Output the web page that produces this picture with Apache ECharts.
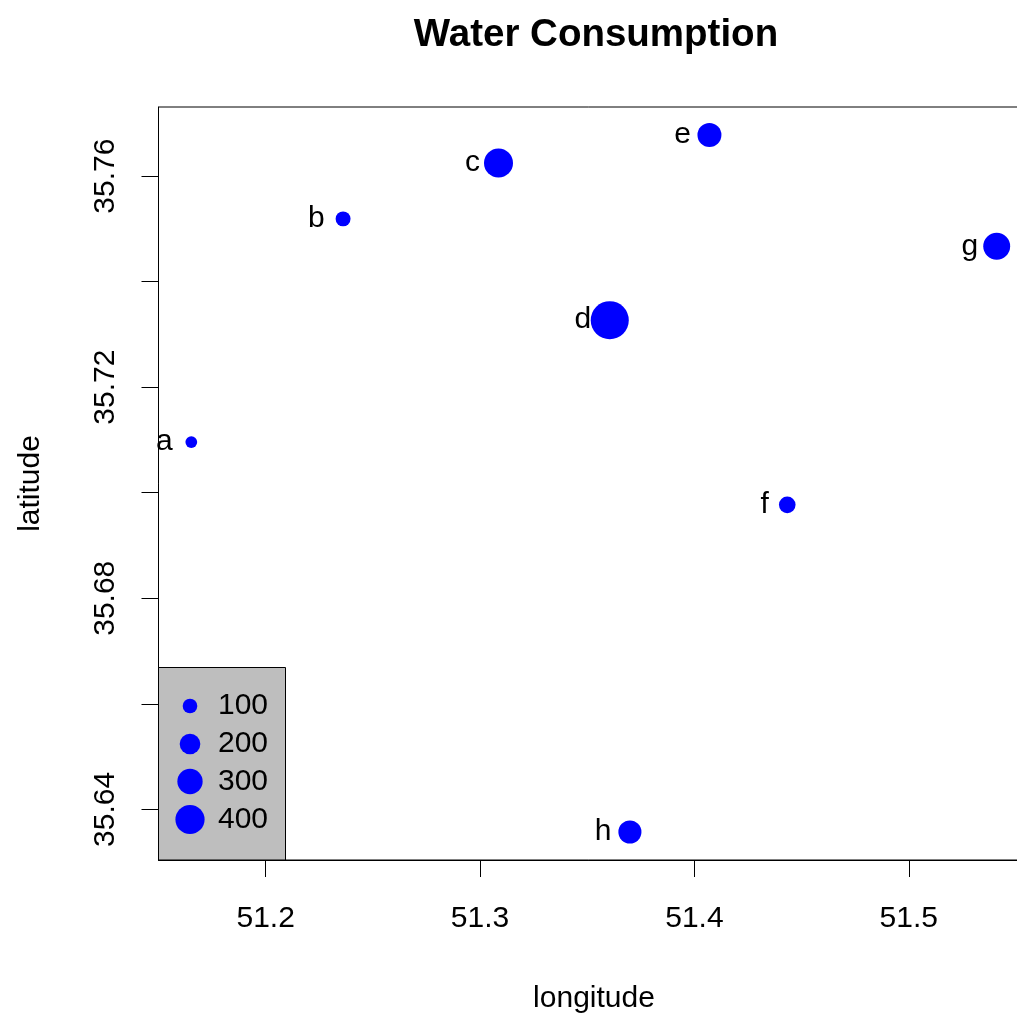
<!DOCTYPE html>
<html>
<head>
<meta charset="utf-8">
<script src="https://cdn.jsdelivr.net/npm/echarts@6/dist/echarts.min.js"></script>
<style>html,body{margin:0;padding:0;background:#fff;overflow:hidden;}#main{width:1017px;height:1015px;}</style>
</head>
<body>
<div id="main"></div>
<script>
// ---- data ----
var names = ['a', 'b', 'c', 'd', 'e', 'f', 'g', 'h'];
var longitude = [51.1653, 51.2361, 51.3086, 51.3605, 51.4070, 51.4433, 51.5410, 51.3699];
var latitude = [35.7096, 35.7519, 35.7625, 35.7327, 35.7678, 35.6977, 35.7467, 35.6357];
var consumption = [65, 105, 395, 680, 270, 130, 340, 250];
var legendValues = [100, 200, 300, 400];
var xTickValues = [51.2, 51.3, 51.4, 51.5];
var yTickValues = [35.64, 35.66, 35.68, 35.70, 35.72, 35.74, 35.76];
var yLabelValues = [35.64, 35.68, 35.72, 35.76];

var FONT = "'Liberation Sans', Arial, sans-serif";
function dotSize(v) { return 14.6 * Math.sqrt(v / 100); }

var points = names.map(function (n, i) { return [longitude[i], latitude[i], consumption[i], n]; });

var legendGraphics = [{
  type: 'rect', shape: { x: 158.5, y: 667.5, width: 127, height: 192.5 },
  style: { fill: '#BEBEBE', stroke: '#000', lineWidth: 1 }, z: 100
}];
var legendY = [706, 744, 781.5, 819.5];
legendValues.forEach(function (v, i) {
  legendGraphics.push({
    type: 'circle', shape: { cx: 190, cy: legendY[i], r: dotSize(v) / 2 },
    style: { fill: '#0000FF' }, z: 101
  });
  legendGraphics.push({
    type: 'text', x: 218, y: legendY[i],
    style: { text: String(v), fill: '#000', font: '30px ' + FONT, verticalAlign: 'middle', align: 'left' }, z: 101
  });
});

var chart = echarts.init(document.getElementById('main'));
chart.setOption({
  backgroundColor: '#fff',
  animation: false,
  title: {
    text: 'Water Consumption', left: 591, top: 11, textAlign: 'center',
    textStyle: { fontFamily: FONT, fontSize: 38.5, fontWeight: 'bold', color: '#000' }
  },
  grid: { left: 158.5, top: 107, width: 871, height: 753, outerBoundsMode: 'none', containLabel: false,
    show: true, borderColor: '#000', borderWidth: 1, backgroundColor: 'transparent' },
  xAxis: {
    type: 'value', min: 51.1500, max: 51.5563,
    name: 'longitude', nameLocation: 'middle', nameGap: 124,
    nameTextStyle: { fontFamily: FONT, fontSize: 30, color: '#000' },
    axisLine: { show: true, onZero: false, lineStyle: { color: '#000', width: 1 } },
    axisTick: { show: true, length: 17, lineStyle: { color: '#000', width: 1 }, customValues: xTickValues },
    axisLabel: { fontFamily: FONT, fontSize: 30, color: '#000', margin: 44, customValues: xTickValues,
      formatter: function (v) { return v.toFixed(1); } },
    splitLine: { show: false }
  },
  yAxis: {
    type: 'value', min: 35.6304, max: 35.7731,
    name: 'latitude', nameLocation: 'middle', nameGap: 113,
    nameTextStyle: { fontFamily: FONT, fontSize: 30, color: '#000' },
    axisLine: { show: true, onZero: false, lineStyle: { color: '#000', width: 1 } },
    axisTick: { show: true, length: 17, lineStyle: { color: '#000', width: 1 }, customValues: yTickValues },
    axisLabel: { fontFamily: FONT, fontSize: 30, color: '#000', margin: 38, rotate: 90, customValues: yLabelValues,
      formatter: function (v) { return v.toFixed(2); } },
    splitLine: { show: false }
  },
  series: [{
    type: 'scatter',
    data: points,
    symbol: 'circle',
    symbolSize: function (val) { return dotSize(val[2]); },
    itemStyle: { color: '#0000FF', opacity: 1 },
    clip: false,
    z: 3
  }, {
    type: 'scatter',
    data: points,
    symbol: 'circle',
    symbolSize: 1,
    itemStyle: { color: 'rgba(0,0,0,0)' },
    label: {
      show: true, position: 'left', distance: 18,
      formatter: function (p) { return p.value[3]; },
      fontFamily: FONT, fontSize: 30, color: '#000', opacity: 1
    },
    clip: false,
    z: 4
  }],
  graphic: legendGraphics
});
</script>
</body>
</html>
